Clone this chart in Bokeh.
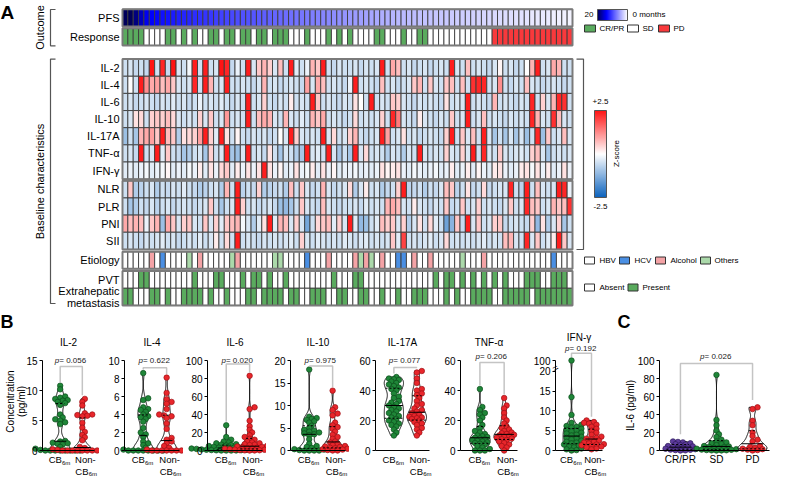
import numpy as np
from bokeh.plotting import figure
from bokeh.models import (Range1d, LinearColorMapper, ColorBar, Label, ColumnDataSource, FixedTicker,
                          LinearAxis)
from bokeh.layouts import column, row
from bokeh.core.properties import field
from bokeh.embed import file_html
from bokeh.resources import INLINE

FONT = "Liberation Sans"

# ---------------------------------------------------------------- data (panel A)
pfs_months = [
    23.0, 20.5, 18.6, 16.4, 14.6, 14.1, 13.7, 13.2, 12.9, 12.5, 12.2, 12.0, 11.8, 11.5, 11.3, 11.1, 10.9, 10.6, 10.4, 10.2, 10.0,
    9.8, 9.6, 9.5, 9.3, 9.1, 8.9, 8.7, 8.5, 8.3, 8.1, 7.9, 7.7, 7.5, 7.3, 7.1, 6.9, 6.7, 6.5, 6.3, 6.1, 5.9,
    5.7, 5.5, 5.3, 5.1, 4.9, 4.7, 4.5, 4.3, 4.1, 3.9, 3.8, 3.7, 3.6, 3.5, 3.4, 3.3, 3.2, 3.1, 3.0, 2.9, 2.8,
    2.7, 2.6, 2.5, 2.4, 2.3, 2.2, 2.1, 2.0, 1.9, 1.8, 1.7, 1.6, 1.5, 1.4, 1.3, 1.2, 1.1, 1.0, 0.9, 0.8, 0.7]

response_levels = ["CR/PR", "SD", "PD"]
response = [
    0, 0, 0, 0, 1, 1, 1, 1, 0, 0, 1, 0, 1, 0, 1, 1, 0, 0, 1, 0, 0,
    1, 0, 0, 1, 0, 0, 1, 0, 0, 0, 1, 1, 1, 0, 1, 1, 1, 0, 1, 0, 1,
    0, 1, 1, 1, 1, 0, 0, 1, 1, 1, 0, 1, 1, 0, 0, 1, 1, 1, 1, 1, 1,
    1, 1, 1, 1, 1, 1, 2, 2, 2, 2, 2, 2, 2, 2, 2, 2, 2, 2, 2, 2, 2]

il2 = [
    -0.5, -0.4, -0.6, -0.5, -0.6, 2.5, -0.5, 2.3, -0.6, 2.5, -0.4, -0.5, -0.1, 2.4, -0.5, 2.4, -0.5, -0.4, 2.5, 2.3, -0.6,
    -0.2, -0.5, 2.4, -0.4, 0.6, 0.8, 0.5, -0.4, 0.7, -0.5, 2.4, -0.3, -0.5, -0.2, 0.8, 0.6, 2.4, -0.5, -0.6, -0.4, -0.5,
    -0.5, -0.4, -0.6, -0.4, -0.5, -0.4, 2.4, -0.5, 0.9, 0.7, -0.5, -0.4, -0.6, -0.5, -0.4, -0.6, -0.5, -0.4, -0.5, 2.4, -0.4,
    -0.5, 0.7, -0.5, -0.4, -0.5, -0.6, -0.4, 0.1, -0.5, -0.4, -0.6, -0.5, 0.0, 0.8, 2.4, -0.5, -0.4, 0.9, 0.8, -0.5, -0.5]
il4 = [
    -0.5, 0.0, -0.5, 2.4, 1.2, 0.9, 1.0, 0.7, 0.9, 0.6, -0.4, -0.5, -0.4, 2.3, -0.5, 2.4, 0.8, -0.5, -0.4, 2.4, -0.5,
    -0.5, -0.4, -0.5, -0.6, -0.4, 0.8, -0.5, -0.4, -0.6, -0.5, -0.4, -0.5, -0.6, 1.0, -0.4, 0.9, 0.7, -0.5, -0.4, -0.5, -0.6,
    -0.2, 2.4, -0.5, -0.4, -0.5, -0.6, 0.7, -0.5, -0.4, -0.6, -0.5, -0.4, 0.6, 0.8, -0.5, 0.6, -0.4, -0.5, 0.6, 0.7, -0.5,
    0.7, -0.5, 2.2, 2.3, 2.3, -0.5, -0.4, 1.2, -0.5, -0.6, -0.4, -0.5, 0.7, -0.4, -0.5, -0.6, -0.5, -0.4, -0.5, -0.6, -0.5]
il6 = [
    -0.5, -0.4, -0.6, -0.5, -0.4, -0.5, -0.6, -0.4, -0.5, -0.3, -0.5, -0.4, -0.6, -0.5, -0.2, -0.5, -0.4, -0.5, -0.3, -0.5, -0.6,
    -0.4, -0.5, 2.4, -0.5, -0.4, 0.5, -0.5, -0.6, -0.4, -0.5, 0.2, -0.5, -0.4, -0.5, 2.4, 0.6, -0.5, -0.4, -0.5, -0.6, -0.4,
    -0.5, 0.3, 0.0, -0.5, 2.4, -0.5, -0.4, -0.5, 0.6, 0.5, -0.4, -0.5, -0.6, -0.4, -0.5, -0.4, -0.5, -0.6, 0.3, -0.5, -0.4,
    -0.4, 2.4, -0.5, -0.4, -0.5, -0.6, 0.8, -0.5, -0.4, -0.5, -0.6, -0.4, -0.5, 2.3, -0.5, 0.5, -0.4, 0.8, 2.3, 2.2, -0.5]
il10 = [
    -0.5, -0.4, 0.3, 0.4, -0.5, 0.5, 0.6, 0.5, 0.7, 0.4, -0.4, -0.5, -0.4, -0.5, 0.5, -0.4, 0.6, -0.5, -0.4, 1.1, -0.5,
    -0.4, -0.5, 2.4, -0.5, 0.7, 0.9, 0.8, -0.4, -0.5, 0.8, -0.4, -0.5, -0.3, -0.5, 0.8, 0.6, 0.9, -0.5, -0.4, -0.5, -0.6,
    -0.5, 0.4, -0.5, -0.4, -0.5, -0.4, 0.5, -0.5, 2.3, 1.4, -0.4, -0.5, -0.6, 0.2, -0.4, -0.5, -0.6, -0.4, -0.5, 0.6, -0.5,
    -0.4, 2.4, -0.5, -0.4, 0.7, -0.5, -0.4, -0.5, -0.6, -0.4, -0.5, -0.4, -0.5, 2.3, 0.8, -0.4, -0.5, 2.2, 0.7, -0.4, -0.5]
il17a = [
    -1.0, -0.5, -0.9, 0.8, 0.9, 1.0, 0.6, 2.4, 0.7, 0.6, -0.8, 0.3, 0.4, 0.5, 1.0, 2.4, 0.5, -0.3, 2.4, 0.3, -0.5,
    0.1, -0.5, -0.6, -0.4, -0.5, -0.4, -0.6, -0.5, 0.0, -0.4, 2.4, 0.5, -0.4, -0.5, -0.4, -0.5, 2.4, -0.4, 0.4, -0.5, -0.4,
    0.5, 0.8, -0.5, -0.6, -0.5, -0.4, 2.4, 1.0, -0.5, -0.4, 0.3, -0.5, -0.4, -0.6, -0.5, -0.4, -0.5, -0.6, 0.5, 2.4, -0.5,
    0.6, -0.4, 0.7, -0.5, 2.4, -0.4, -0.9, -0.5, -0.9, -0.4, -0.9, -0.4, -1.0, -0.5, 2.3, -1.0, 0.6, -0.5, -0.4, 0.7, -0.4]
tnf = [
    -0.5, -0.4, -0.6, 2.4, -0.5, -0.4, 2.4, -0.3, 0.6, -0.5, -0.6, -0.9, -0.8, -0.5, -0.4, -0.9, 0.5, -0.5, -0.4, 2.4, -0.9,
    -1.0, -0.4, 2.4, -0.5, -0.4, -0.6, 0.3, -0.5, -0.9, -0.4, -0.5, -0.8, -0.9, 2.4, -0.4, -0.3, -0.5, 2.4, -0.4, -0.9, -0.5,
    -0.9, 2.4, -0.4, 0.4, -0.5, -0.4, -0.5, -0.8, -0.4, -0.5, -0.8, -0.4, -0.5, 2.4, -0.4, -0.5, -0.4, -0.5, 0.5, -0.4, -0.5,
    0.5, -0.4, 2.4, -0.5, 2.3, -0.4, -0.5, 0.6, -0.4, -0.5, -0.4, -0.3, -0.5, 0.5, 0.7, -0.4, -0.9, -0.5, -0.4, -0.5, -0.4]
ifng = [
    -0.3, -0.2, -0.3, -0.2, -0.1, -0.3, -0.2, -0.1, 0.1, -0.3, -0.2, -0.3, -0.1, -0.2, 0.2, -0.3, 0.3, -0.2, 0.4, 0.6, -0.3,
    0.2, -0.2, 0.3, -0.2, 0.3, 2.4, 0.3, -0.2, 0.1, -0.3, -0.2, 0.3, -0.2, -0.1, 0.2, -0.3, 0.3, -0.2, 0.1, -0.3, -0.2,
    -0.2, -0.1, -0.3, -0.2, -0.3, -0.2, 0.3, 0.1, 0.2, 0.3, -0.2, -0.3, -0.1, -0.2, -0.3, -0.2, -0.1, -0.3, -0.2, 0.2, -0.3,
    -0.2, 0.2, -0.3, 0.1, -0.2, -0.3, 0.2, 0.3, -0.2, -0.3, -0.2, 0.2, 0.3, -0.1, 0.3, -0.2, 0.2, -0.3, -0.2, 0.3, -0.2]
nlr = [
    -0.5, 0.6, -0.8, -0.7, -0.5, -0.4, -0.8, -0.5, -0.6, -0.4, -0.5, -0.3, -0.5, -0.6, -0.8, -0.7, -0.5, -0.4, -0.8, 0.8, -0.5,
    2.4, -0.7, -0.5, -0.6, 0.5, -0.8, -0.7, -0.6, -0.5, -0.8, 0.7, -0.5, 0.6, -0.4, -0.6, -0.5, 0.8, -0.4, -0.6, -0.5, -0.4,
    0.4, -0.8, -0.4, 0.2, -0.5, -0.4, -0.8, -0.6, -0.5, 0.5, 2.4, -0.7, -0.6, -0.5, -0.8, -0.5, -0.6, -0.4, 0.7, 0.6, -0.7,
    -0.5, 0.3, -0.6, -0.5, 0.4, -0.6, -0.5, -0.4, -0.4, 2.3, -0.5, -0.7, 2.4, -0.5, 0.7, -0.4, -0.5, -0.4, 2.4, 2.3, -0.2]
plr = [
    -0.5, -0.9, -0.8, -0.5, -0.6, -0.4, -0.7, -0.5, -0.4, -0.6, -0.5, -0.4, -0.5, -0.6, -0.5, -0.4, 0.6, -0.5, -0.9, -0.5, -0.4,
    2.4, 0.5, -0.5, -0.4, -0.6, -0.5, -0.4, -0.6, -1.0, -1.1, -0.9, -0.5, 0.6, -0.4, -0.5, -0.6, 0.7, -0.4, -0.5, -0.6, -0.5,
    -0.5, -0.4, -0.6, -0.3, -0.5, -0.4, -0.5, 0.8, 0.9, 0.7, -0.4, -0.5, 0.2, -0.4, -0.5, -0.6, -0.4, -0.5, 0.6, -0.6, -0.5,
    0.6, -0.5, -0.4, 0.5, -0.5, -0.4, -0.5, -0.6, -0.4, 0.6, -0.5, -0.4, 2.3, 0.7, 0.6, -0.5, -0.4, 0.8, 0.6, 0.7, 2.2]
pni = [
    0.9, 0.7, 0.8, 0.7, -0.2, 0.6, 0.8, -1.0, 0.9, 0.6, -0.4, 0.5, 0.6, -0.4, -0.5, 0.6, -0.4, 0.5, -0.3, 0.6, 0.7,
    0.8, -0.1, -0.4, -0.8, -0.3, 0.3, 2.4, -0.3, 0.8, 0.7, -0.4, 0.5, -0.4, -1.4, -0.5, 0.4, 0.6, 0.7, -0.3, 0.5, -0.4,
    2.4, -0.3, -1.1, -1.0, -0.5, -0.3, 0.7, 0.5, 0.6, -0.4, 0.5, -0.8, -0.4, 0.3, -0.5, 0.4, -0.3, -0.5, -1.5, -1.2, 0.6,
    -0.6, 2.4, -0.4, 0.6, -0.5, -0.4, 0.5, 0.6, -0.6, -0.5, -0.4, -0.5, -0.6, 0.5, -1.1, 0.3, -0.8, -0.4, 0.5, -0.9, -0.5]
sii = [
    -0.5, -0.4, -0.5, -0.6, -0.4, -0.5, -0.4, -0.3, -0.5, -0.4, -0.6, -0.5, -0.4, -0.5, -0.3, -0.5, -0.4, 0.2, -0.5, 0.4, -0.5,
    2.4, -0.5, -0.4, -0.5, -0.6, -0.4, -0.5, -0.4, -0.5, -0.4, -0.3, -0.5, 0.5, -0.4, -0.5, -0.3, -0.4, -0.5, -0.4, -0.5, -0.3,
    -0.4, -0.5, -0.4, -0.3, -0.5, -0.4, -0.5, -0.4, 0.6, -0.3, 2.0, -0.5, -0.4, -0.5, -0.4, -0.3, -0.5, -0.4, 0.4, -0.5, -0.4,
    -0.5, -0.4, -0.5, -0.4, -0.3, -0.5, -0.4, -0.5, 0.7, 0.8, -0.4, -0.5, 2.3, -0.4, 0.6, -0.5, -0.3, 0.2, 2.4, 0.6, -0.4]

etiology_levels = ["HBV", "HCV", "Alcohol", "Others"]
etiology = [
    0, 0, 0, 0, 0, 2, 0, 1, 0, 0, 0, 0, 3, 0, 2, 0, 0, 0, 0, 0, 3,
    2, 0, 0, 0, 0, 0, 0, 3, 3, 0, 0, 0, 0, 1, 0, 0, 0, 2, 0, 0, 0,
    0, 2, 3, 2, 3, 0, 2, 0, 0, 1, 1, 0, 2, 0, 0, 2, 0, 0, 0, 0, 0,
    3, 0, 0, 0, 2, 0, 0, 0, 0, 0, 0, 0, 0, 0, 0, 0, 0, 1, 0, 0, 0]
presence_levels = ["Absent", "Present"]
pvt = [
    0, 0, 0, 1, 1, 0, 0, 0, 0, 0, 0, 0, 0, 1, 0, 0, 0, 1, 1, 0, 0,
    0, 1, 0, 1, 1, 0, 1, 0, 0, 1, 0, 0, 0, 0, 0, 0, 0, 0, 1, 0, 0,
    0, 1, 1, 0, 0, 0, 0, 0, 0, 0, 0, 0, 0, 0, 0, 0, 1, 0, 1, 1, 0,
    1, 0, 1, 0, 1, 0, 1, 0, 1, 0, 0, 0, 1, 1, 1, 0, 0, 1, 1, 1, 0]
extrahepatic = [
    1, 1, 0, 0, 0, 1, 1, 0, 1, 0, 0, 1, 1, 1, 1, 0, 1, 0, 0, 1, 0,
    0, 0, 1, 1, 0, 1, 1, 1, 1, 0, 1, 1, 0, 0, 1, 1, 1, 0, 0, 1, 1,
    0, 0, 1, 1, 0, 0, 1, 0, 0, 1, 0, 0, 1, 1, 1, 0, 0, 0, 1, 0, 1,
    0, 0, 1, 1, 1, 1, 0, 0, 1, 1, 1, 1, 1, 0, 1, 1, 1, 1, 1, 1, 1]

cytokine_rows = [("IL-2", il2), ("IL-4", il4), ("IL-6", il6), ("IL-10", il10),
                 ("IL-17A", il17a), ("TNF-α", tnf), ("IFN-γ", ifng)]
index_rows = [("NLR", nlr), ("PLR", plr), ("PNI", pni), ("SII", sii)]

# ---------------------------------------------------------------- data (panels B, C)
il2_cb = [10.8, 10.2, 9.0, 8.8, 8.6, 8.4, 8.3, 8.1, 7.9, 7.6, 6.0, 5.5, 5.2, 5.0, 4.7, 4.4, 1.6, 1.5, 1.3, 1.2, 1.1, 1.0, 0.6, 0.3, 0.2, 0.1, 0, 0, 0, 0, 0, 0, 0, 0]
il2_ncb = [8.6, 8.1, 7.5, 6.2, 6.0, 5.9, 5.8, 5.7, 4.6, 3.8, 3.1, 2.6, 2.2, 1.7, 0.6, 0.4, 0.3, 0.2, 0.1, 0.1, 0, 0, 0, 0, 0, 0, 0, 0, 0, 0]
il4_cb = [8.6, 5.8, 5.6, 4.8, 4.6, 4.5, 4.3, 4.0, 3.8, 3.7, 3.5, 3.2, 2.5, 2.0, 1.8, 1.5, 1.0, 0.8, 0.6, 0.3, 0.2, 0.1, 0, 0, 0, 0, 0, 0, 0, 0]
il4_ncb = [8.1, 6.4, 5.7, 5.4, 5.2, 4.6, 4.0, 3.9, 3.8, 3.6, 3.0, 2.4, 1.4, 1.2, 1.0, 0.8, 0.5, 0.3, 0.2, 0.1, 0, 0, 0, 0, 0, 0, 0, 0]
il6_cb = [28, 15, 12, 10, 9, 8, 7, 6.5, 6, 5.5, 5, 4.5, 4, 3.6, 3.2, 3, 2.8, 2.5, 2.2, 2, 1.8, 1.5, 1.2, 1, 0.8, 0.6, 0.5, 0.3, 0.2, 0.1, 0, 0, 0]
il6_ncb = [83, 48, 46, 33, 27, 23, 20, 17, 15, 13, 12, 10, 9, 8, 7, 6.5, 6, 5, 4.5, 4, 3.5, 3, 2.8, 2.5, 2.2, 2, 1.8, 1.5, 1.2, 1, 0.8, 0.5, 0.3, 0.2, 0.1, 0]
il10_cb = [18, 7.5, 7.2, 7.0, 6.8, 6.5, 6.2, 5.5, 5.0, 4.6, 4.4, 4.2, 4.0, 3.8, 3.6, 3.4, 2.5, 1.5, 1.0, 0.8, 0.6, 0.4, 0.3, 0.2, 0.1, 0, 0, 0, 0]
il10_ncb = [13.3, 9.6, 9.0, 8.2, 7.8, 6.2, 5.6, 5.2, 4.8, 4.2, 3.5, 3.0, 2.6, 2.0, 1.8, 1.5, 1.2, 1.0, 0.9, 0.8, 0.6, 0.5, 0.4, 0.3, 0.2, 0.1, 0, 0]
il17a_cb = [49, 48, 47.5, 47, 46, 45, 44, 43, 42, 41, 40, 38, 36, 35, 33, 32, 31, 30, 29, 28, 27, 26, 25, 24, 23, 22, 21, 20, 19, 18, 17, 16, 14, 12, 10]
il17a_ncb = [53, 52, 48, 45, 41, 40, 38, 37, 35, 33, 31, 30, 28, 27, 26, 25, 24, 23, 22.5, 22, 21.5, 21, 20, 19, 18, 17, 15, 14, 12, 10]
tnf_cb = [41, 29, 27, 25, 24, 22, 20, 17, 15, 13, 12, 11, 10, 9.5, 9, 8.5, 8, 7.5, 7, 6.5, 6, 5.5, 5, 4.5, 4, 3, 2, 1, 0, 0, 0]
tnf_ncb = [35, 30, 28, 25, 22, 20, 18, 16, 15, 14, 13, 12, 11.5, 11, 10.5, 10, 9.5, 9, 8.5, 8, 7.5, 7, 6, 5, 4, 3, 2, 0]
ifn_cb = [100, 13.5, 9, 7, 6.5, 6.2, 6, 5.8, 5.5, 5.2, 5, 4.8, 4.5, 4.3, 4.0, 3.8, 3.5, 3.2, 3.0, 2.8, 2.5, 2.2, 2.0, 1.8, 1.5, 1.2, 1.0, 0.8, 0.5, 0.3, 0.1, 0]
ifn_ncb = [7.6, 7.2, 7.0, 6.8, 6.5, 6.0, 5.5, 5.0, 4.5, 4.0, 3.5, 3.2, 3.0, 2.8, 2.5, 2.2, 2.0, 1.8, 1.6, 1.5, 1.3, 1.2, 1.0, 0.8, 0.5, 0.3]
p_values_b = ["0.056", "0.622", "0.020", "0.975", "0.077", "0.206", "0.192"]

il6_crpr = [10, 9.5, 9, 8, 7, 6.5, 6, 5, 4.5, 4, 3.5, 3, 2.5, 2, 1.5, 1, 0.8, 0.5, 0.2, 0]
il6_sd = [84, 34, 28, 22, 18, 15, 12, 10, 9, 8, 7, 6, 5, 4.5, 4, 3.5, 3, 2.5, 2, 1.5, 1, 0.8, 0.5, 0.3, 0.2, 0.1, 0]
il6_pd = [48, 46, 33, 28, 20, 16, 12, 10, 5, 4, 3, 2, 1.5, 1, 0.5, 0]
p_value_c = "0.026"

# ---------------------------------------------------------------- helpers
def rgb(h):
    h = h.lstrip("#")
    return tuple(int(h[i:i + 2], 16) for i in (0, 2, 4))


def make_palette(stops, n=256):
    pal = []
    for i in range(n):
        t = i / (n - 1)
        for (p0, c0), (p1, c1) in zip(stops[:-1], stops[1:]):
            if t <= p1 + 1e-9:
                f = (t - p0) / (p1 - p0)
                a, b = rgb(c0), rgb(c1)
                pal.append("#%02x%02x%02x" % tuple(int(round(a[k] + (b[k] - a[k]) * f)) for k in range(3)))
                break
    return pal


def add_label(p, x, y, text, size, align="left", baseline="middle", angle=0.0, style="normal",
              color="#000000", xu="screen", yu="screen", x_offset=0, y_offset=0):
    p.add_layout(Label(x=x, y=y, x_units=xu, y_units=yu, text=text, text_font=FONT,
                       text_font_size=f"{size}px", text_align=align, text_baseline=baseline,
                       angle=angle, text_font_style=style, text_color=color,
                       x_offset=x_offset, y_offset=y_offset))


Z_PALETTE = make_palette([(0.0, "#0b62bd"), (0.5, "#ffffff"), (1.0, "#ff1414")])
PFS_PALETTE = make_palette([(0.0, "#ffffff"), (0.7, "#0000ff"), (1.0, "#00005a")])
RESP_COLORS = ["#5aab5e", "#ffffff", "#f8393c"]
ETIO_COLORS = ["#ffffff", "#4a8fe3", "#f4a3a6", "#abd9aa"]
PRES_COLORS = ["#ffffff", "#5aab5e"]
CELL_LINE = "#3c3c3c"

# ---------------------------------------------------------------- panel A (heatmap)
W, H1 = 771, 310
N = len(pfs_months)
CW = 450.0 / N
X0 = -0.5 - 122.0 / CW
hm = figure(width=W, height=H1, x_range=Range1d(X0, X0 + W / CW), y_range=Range1d(H1, 0),
            output_backend="svg", toolbar_location=None, min_border=0,
            x_axis_location=None, y_axis_location=None, outline_line_color=None,
            background_fill_color="white", border_fill_color="white")
hm.grid.visible = False
hm.extra_x_ranges = {"px": Range1d(0, W)}

RH = 17.15
blocks = [(16.8, ["PFS"]), (35.8, ["Response"]), (66.6, [n for n, _ in cytokine_rows]),
          (188.3, [n for n, _ in index_rows]), (259.2, ["Etiology"]), (278.6, ["PVT", "Extra"])]
row_y = {}
for top, names in blocks:
    for k, nm in enumerate(names):
        row_y[nm] = top - 8 + RH * (k + 0.5)

cols = list(range(N))
pfs_map = LinearColorMapper(palette=PFS_PALETTE, low=0, high=20)
zmap = LinearColorMapper(palette=Z_PALETTE, low=-2.5, high=2.5)

src = ColumnDataSource(dict(x=cols, y=[row_y["PFS"]] * N, v=pfs_months))
hm.rect(x="x", y="y", width=1, height=RH, source=src,
        fill_color={"field": "v", "transform": pfs_map}, line_color=CELL_LINE, line_width=0.9)


def draw_cat_row(name, codes, palette):
    s = ColumnDataSource(dict(x=cols, y=[row_y[name]] * N, c=[palette[c] for c in codes]))
    hm.rect(x="x", y="y", width=1, height=RH, source=s, fill_color=field("c"),
            line_color=CELL_LINE, line_width=0.9)


draw_cat_row("Response", response, RESP_COLORS)
zx, zy, zv = [], [], []
for nm, vals in cytokine_rows + index_rows:
    zx += cols
    zy += [row_y[nm]] * N
    zv += vals
hm.rect(x="x", y="y", width=1, height=RH, source=ColumnDataSource(dict(x=zx, y=zy, v=zv)),
        fill_color={"field": "v", "transform": zmap}, line_color=CELL_LINE, line_width=0.9)
draw_cat_row("Etiology", etiology, ETIO_COLORS)
draw_cat_row("PVT", pvt, PRES_COLORS)
draw_cat_row("Extra", extrahepatic, PRES_COLORS)

for top, names in blocks:
    hm.rect(x=(N - 1) / 2, y=top - 8 + RH * len(names) / 2, width=N, height=RH * len(names),
            fill_color=None, line_color="#7a7a7a", line_width=2)

for nm in ["PFS", "Response"] + [n for n, _ in cytokine_rows] + [n for n, _ in index_rows] + ["Etiology", "PVT"]:
    add_label(hm, 119, H1 - row_y[nm], nm, 11, align="right")
add_label(hm, 119, H1 - (row_y["Extra"] - 6), "Extrahepatic", 11, align="right")
add_label(hm, 119, H1 - (row_y["Extra"] + 6), "metastasis", 11, align="right")

BR = dict(line_color="#555555", line_width=1.2, x_range_name="px")
hm.line([55, 50, 50, 55], [9, 9, 45.3, 45.3], **BR)
hm.line([55, 50, 50, 55], [58.6, 58.6, 303, 303], **BR)
hm.line([576, 583, 583, 576], [58.6, 58.6, 249, 249], **BR)
add_label(hm, 39, H1 - 27, "Outcome", 11, align="center", angle=np.pi / 2)
add_label(hm, 39, H1 - 181, "Baseline characteristics", 11, align="center", angle=np.pi / 2)
add_label(hm, 0, H1 - 1, "A", 19, style="bold", baseline="top")

add_label(hm, 593, H1 - 14, "20", 8, align="right")
add_label(hm, 632, H1 - 14, "0 months", 8)
pfs_leg_map = LinearColorMapper(palette=PFS_PALETTE[::-1], low=0, high=20)
CB_COMMON = dict(padding=0, margin=0, ticker=FixedTicker(ticks=[]), major_label_text_font_size="0px",
                 major_tick_line_color=None, minor_tick_line_color=None, bar_line_color="#555555",
                 border_line_color=None, background_fill_alpha=0, label_standoff=0)
hm.add_layout(ColorBar(color_mapper=pfs_leg_map, location=(597, H1 - 20), orientation="horizontal",
                       width=30, height=11, **CB_COMMON))
hm.add_layout(ColorBar(color_mapper=zmap, location=(594, H1 - 197), orientation="vertical",
                       width=12, height=87, **CB_COMMON))
add_label(hm, 600, H1 - 101, "+2.5", 8, align="center")
add_label(hm, 600, H1 - 206, "-2.5", 8, align="center")
add_label(hm, 616, H1 - 153, "Z-score", 8, align="center", angle=np.pi / 2)


def legend_row(y, boxes_x, colors, texts, text_x, w=11):
    hm.rect(x=boxes_x, y=[y] * len(boxes_x), width=w, height=7, x_range_name="px",
            fill_color=colors, line_color="#333333", line_width=1)
    for tx, t in zip(text_x, texts):
        add_label(hm, tx, H1 - y, t, 8)


legend_row(28, [589.5, 632.5, 663.5], RESP_COLORS, response_levels, [599, 642, 673])
legend_row(260, [589, 624, 660, 705], ETIO_COLORS, etiology_levels, [599, 634, 670, 714], w=10)
legend_row(287, [589, 632.5], PRES_COLORS, presence_levels, [599, 642], w=10)

# ---------------------------------------------------------------- panels B and C
HF = 166          # height of each small figure
BOT = 26          # px from figure bottom to value 0
GREEN = ("#1f8638", "#0c4d1b")
RED = ("#e8262b", "#9c1015")
PURPLE = ("#5d3b9b", "#2c1a5c")


def kde_shape(vals, npts=240):
    v = np.asarray(vals, float)
    lo, hi = v.min(), v.max()
    sd = v.std(ddof=1)
    bw = max(0.5 * 1.06 * sd * len(v) ** (-0.2), (hi - lo) * 0.01 + 1e-6)
    grid = np.linspace(lo, hi, npts)
    dens = np.exp(-0.5 * ((grid[:, None] - v[None, :]) / bw) ** 2).sum(axis=1)
    return grid, dens / dens.max()


def swarm(vals_px, d):
    order = np.argsort(vals_px, kind="stable")
    px, py = [], []
    offs = np.zeros(len(vals_px))
    for i in order:
        y = vals_px[i]
        k = 0
        while True:
            c = ((k + 1) // 2) * d * 0.45 * (1 if k % 2 == 1 else -1)
            if all((c - a) ** 2 + (y - b) ** 2 >= (0.58 * d) ** 2 for a, b in zip(px, py)):
                break
            k += 1
        offs[i] = c
        px.append(c)
        py.append(y)
    return offs


def panel(groups, colors, top, ticks, bl, fw, br, xr, bracket, bracket_span, pval, p_y, p_x,
          title=None, title_y=134, transform=None, overrides=None, hw=0.42, pad=0.04):
    ux = fw / (xr[1] - xr[0])
    py_unit = 90.0 / top
    x_start = xr[0] - bl / ux
    x_end = xr[1] + br / ux
    y_start = -BOT / py_unit
    y_end = (HF - BOT) / py_unit
    p = figure(width=bl + fw + br, height=HF, min_border=0,
               x_range=Range1d(x_start, x_end), y_range=Range1d(y_start, y_end),
               x_axis_location=None, y_axis_location=None,
               output_backend="svg", toolbar_location=None, outline_line_color=None,
               background_fill_color="white", border_fill_color="white")
    p.grid.visible = False
    ya = LinearAxis(fixed_location=xr[0], ticker=FixedTicker(ticks=ticks), bounds=(0, top),
                    minor_tick_line_color=None, major_tick_out=3, major_tick_in=0,
                    major_label_standoff=2, major_label_text_font=FONT,
                    major_label_text_font_size="10px", major_label_text_color="#000000",
                    axis_line_color="#000000", major_tick_line_color="#000000")
    if overrides:
        ya.major_label_overrides = overrides
    p.add_layout(ya, "left")
    xa = LinearAxis(fixed_location=0, ticker=FixedTicker(ticks=[]), bounds=(xr[0], xr[1]),
                    minor_tick_line_color=None, major_label_text_font_size="0px",
                    axis_line_color="#000000")
    p.add_layout(xa, "below")

    tf = transform if transform else (lambda v: v)
    for ci, (vals, col) in enumerate(zip(groups, colors)):
        vt = np.array([tf(v) for v in vals], float)
        grid, w = kde_shape(vt)
        xs = np.concatenate([ci + hw * w, (ci - hw * w)[::-1]])
        ys = np.concatenate([grid, grid[::-1]])
        p.patch(xs, ys, fill_color="white", line_color="#000000", line_width=1)
        offs = swarm(vt * py_unit, 5.5) / ux
        p.scatter(ci + offs, vt, size=5.5, fill_color=col[0], line_color=col[1], line_width=0.7)
        for q, dash in ((25, "2 2"), (50, "solid"), (75, "2 2")):
            yq = float(np.percentile(vt, q))
            wq = float(np.interp(yq, grid, w)) * hw
            p.line([ci - wq, ci + wq], [yq, yq], line_color="#000000", line_width=1, line_dash=dash)

    a, b = bracket_span
    lo_a = max(tf(v) for v in groups[a]) + pad * top
    lo_b = max(tf(v) for v in groups[b]) + pad * top
    p.line([a, a, b, b], [lo_a, bracket, bracket, lo_b], line_color="#c4c4c4", line_width=1.5)
    add_label(p, p_x, p_y, "p", 8, style="italic", color="#222222", xu="data", x_offset=-16.5)
    add_label(p, p_x, p_y, " = " + pval, 8, color="#222222", xu="data", x_offset=-12.0)
    if title:
        add_label(p, (xr[0] + xr[1]) / 2, title_y, title, 10, align="center", xu="data")
    return p


def cb_labels(p):
    add_label(p, 0, 17, "CB", 9.5, xu="data", x_offset=-11.5)
    add_label(p, 0, 13.8, "6m", 6, xu="data", x_offset=1.8)
    add_label(p, 1, 17, "Non-", 9.5, align="center", xu="data", x_offset=3)
    add_label(p, 1, 5.5, "CB", 9.5, xu="data", x_offset=-7)
    add_label(p, 1, 3, "6m", 6, xu="data", x_offset=6.3)


XR_B = (-0.8, 1.55)
# title, CB values, Non-CB values, axis top, ticks, left border, frame width, right border, bracket, p y
specs = [
    ("IL-2", il2_cb, il2_ncb, 15, [0, 5, 10, 15], 42, 52, 5, 14.0, 116),
    ("IL-4", il4_cb, il4_ncb, 10, [0, 2, 4, 6, 8, 10], 25, 55, 4, 9.2, 116),
    ("IL-6", il6_cb, il6_ncb, 100, [0, 20, 40, 60, 80, 100], 24, 55, 4, 96, 116),
    ("IL-10", il10_cb, il10_ncb, 20, [0, 5, 10, 15, 20], 24, 55, 4, 18.8, 116),
    ("IL-17A", il17a_cb, il17a_ncb, 60, [0, 20, 40, 60], 26, 54, 4, 55.3, 116),
    ("TNF-α", tnf_cb, tnf_ncb, 60, [0, 20, 40, 60], 27, 57, 4, 58.7, 120),
]
figs = []
for i, (t, g1, g2, top, ticks, bl, fw, br, brk, p_y) in enumerate(specs):
    f = panel([g1, g2], [GREEN, RED], top, ticks, bl, fw, br, XR_B, brk, (0, 1), p_values_b[i], p_y, 0.5,
              title=t)
    cb_labels(f)
    figs.append(f)

IFN_BREAK = 20
IFN_TOP = 22.75


def ifn_scale(v):
    return v if v <= IFN_BREAK else IFN_BREAK + (v - IFN_BREAK) * (IFN_TOP - IFN_BREAK) / 80.0


f_ifn = panel([ifn_cb, ifn_ncb], [GREEN, RED], IFN_TOP, [0, 5, 10, 15, 20, IFN_TOP], 34, 47, 5, XR_B,
              24.56, (0, 1), p_values_b[6], 128.3, 0.5, title="IFN-γ", title_y=139,
              transform=ifn_scale, overrides={IFN_TOP: "100"})
add_label(f_ifn, XR_B[0], 108.5, "=", 10, align="center", angle=0.5, xu="data")
cb_labels(f_ifn)
figs.append(f_ifn)

add_label(figs[0], 0, 165, "B", 18, style="bold", baseline="top")
add_label(figs[0], 10, 75, "Concentration", 10, align="center", angle=np.pi / 2)
add_label(figs[0], 21, 75, "(pg/ml)", 10, align="center", angle=np.pi / 2)

f_c = panel([il6_crpr, il6_sd, il6_pd], [PURPLE, GREEN, RED], 100, [0, 20, 40, 60, 80, 100], 52, 110, 2,
            (-0.58, 2.47), 96.7, (0, 2), p_value_c, 120, 1.0, hw=0.4, pad=0.08)
for ci, t in enumerate(response_levels):
    add_label(f_c, ci, 17, t, 10, align="center", xu="data")
add_label(f_c, 10, 165, "C", 18, style="bold", baseline="top")
add_label(f_c, 23, 71, "IL-6 (pg/ml)", 10, align="center", angle=np.pi / 2)
figs.append(f_c)

layout = column(hm, row(*figs))
open("out.html", "w", encoding="utf-8").write(file_html(layout, INLINE, title="chart"))
